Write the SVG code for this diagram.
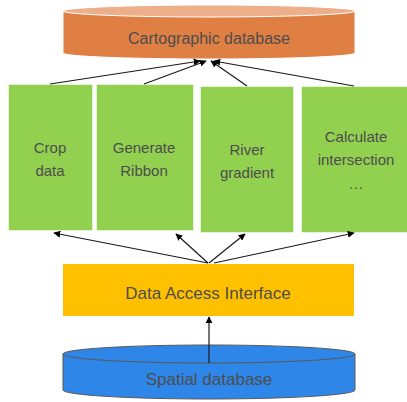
<svg xmlns="http://www.w3.org/2000/svg" width="407" height="402" viewBox="0 0 407 402">
  <style>
    .lbl { font-family: "Liberation Sans", Arial, sans-serif; fill: #4D4D4D; text-anchor: middle; }
    .box { fill: #92D050; stroke: #FFFFFF; stroke-width: 1.5; }
    .conn { stroke: #1A1A1A; stroke-width: 1.2; fill: none; marker-end: url(#arrow); }
  </style>
  <defs>
    <marker id="arrow" viewBox="0 0 10 10" refX="9" refY="5" markerWidth="7" markerHeight="7" markerUnits="userSpaceOnUse" orient="auto">
      <path d="M0,0 L10,5 L0,10 Z" fill="#000000"/>
    </marker>
  </defs>
  <rect width="407" height="402" fill="#FFFFFF"/>

  <!-- Cartographic database cylinder -->
  <g id="cartographic-db">
    <path d="M63,11 L63,53 A146,6 0 0 0 355,53 L355,11 Z" fill="#E07F43" stroke="#FFFFFF" stroke-width="1"/>
    <ellipse cx="209" cy="11" rx="146" ry="6" fill="#EDAE8A" stroke="#FFFFFF" stroke-width="1"/>
    <text class="lbl" x="209" y="44" font-size="16">Cartographic database</text>
  </g>

  <!-- Processing nodes -->
  <g id="crop-data">
    <rect class="box" x="8" y="84" width="85" height="147"/>
    <text class="lbl" x="50" y="153" font-size="15">Crop</text>
    <text class="lbl" x="50" y="176" font-size="15">data</text>
  </g>
  <g id="generate-ribbon">
    <rect class="box" x="96" y="84" width="98" height="147"/>
    <text class="lbl" x="144" y="153" font-size="15">Generate</text>
    <text class="lbl" x="144" y="176" font-size="15">Ribbon</text>
  </g>
  <g id="river-gradient">
    <rect class="box" x="200" y="86" width="94" height="147"/>
    <text class="lbl" x="247" y="155" font-size="15">River</text>
    <text class="lbl" x="247" y="178" font-size="15">gradient</text>
  </g>
  <g id="calculate-intersection">
    <rect class="box" x="301" y="86" width="108" height="147"/>
    <text class="lbl" x="356" y="142" font-size="15">Calculate</text>
    <text class="lbl" x="356" y="165" font-size="15">intersection</text>
    <text class="lbl" x="356" y="189" font-size="15">…</text>
  </g>

  <!-- Data Access Interface -->
  <g id="data-access">
    <rect x="63" y="264" width="291" height="52" fill="#FFC000"/>
    <text class="lbl" x="208" y="299" font-size="17">Data Access Interface</text>
  </g>

  <!-- Spatial database cylinder -->
  <g id="spatial-db">
    <path d="M63,354 L63,390 A146,9 0 0 0 355,390 L355,354 Z" fill="#2E86E8" stroke="#595959" stroke-width="1"/>
    <ellipse cx="209" cy="354" rx="146" ry="9" fill="#2E86E8" stroke="#595959" stroke-width="1"/>
    <text class="lbl" x="209" y="385" font-size="17">Spatial database</text>
  </g>

  <!-- Connectors -->
  <g id="connectors">
    <line class="conn" x1="50" y1="84" x2="200" y2="61"/>
    <line class="conn" x1="144" y1="84" x2="206" y2="61"/>
    <line class="conn" x1="247" y1="86" x2="211" y2="61"/>
    <line class="conn" x1="354" y1="86" x2="214" y2="61"/>

    <line class="conn" x1="208" y1="263" x2="54" y2="233"/>
    <line class="conn" x1="208" y1="263" x2="176" y2="234"/>
    <line class="conn" x1="209" y1="263" x2="245" y2="234"/>
    <line class="conn" x1="214" y1="263" x2="354" y2="233"/>

    <line class="conn" x1="209" y1="363" x2="209" y2="317"/>
  </g>
</svg>
